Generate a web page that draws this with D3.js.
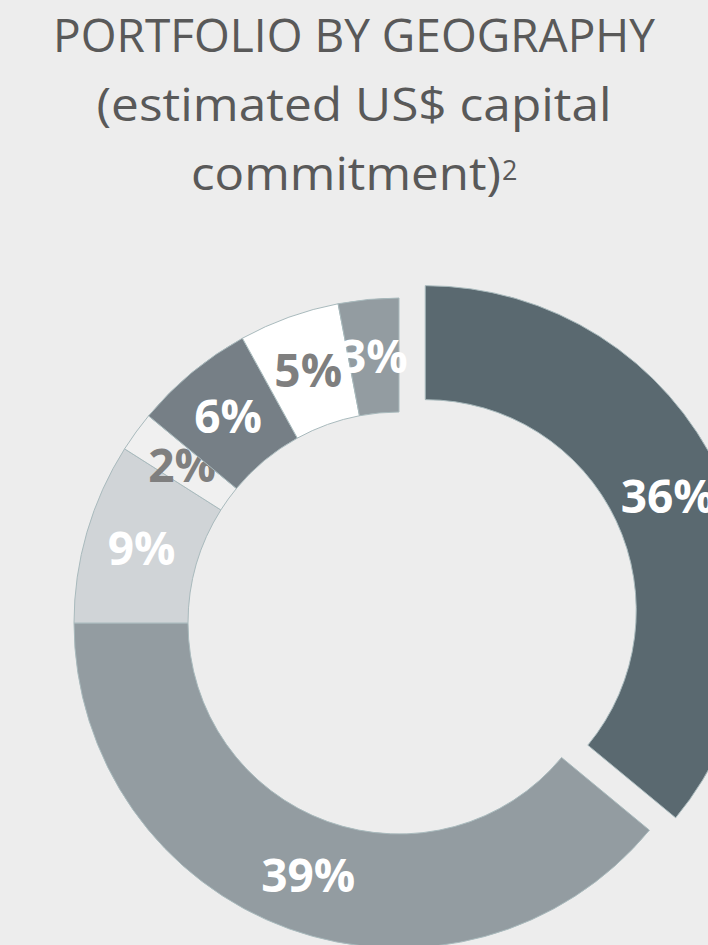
<!DOCTYPE html>
<html>
<head>
<meta charset="utf-8">
<script src="https://cdn.jsdelivr.net/npm/d3@7"></script>
<style>
  html, body { margin: 0; padding: 0; background: #ededed; }
  svg { display: block; }
</style>
</head>
<body>
<svg id="chart" width="708" height="945"></svg>
<script>
// Share of estimated US$ capital commitment by geography (clockwise from 12 o'clock)
const segments = ["A", "B", "C", "D", "E", "F", "G"];
const shares = [36, 39, 9, 2, 6, 5, 3];
const labels = ["36%", "39%", "9%", "2%", "6%", "5%", "3%"];
const exploded = ["A"];

const fills = ["#5a6970", "#939ca1", "#d0d4d7", "#f0f0f0", "#767f86", "#ffffff", "#939ca1"];
const labelColors = ["#ffffff", "#ffffff", "#ffffff", "#7f7f7f", "#ffffff", "#7f7f7f", "#ffffff"];

const titleLines = ["PORTFOLIO BY GEOGRAPHY", "(estimated US$ capital", "commitment)"];

const svg = d3.select("#chart");
const W = 708, H = 945;

svg.append("rect").attr("width", W).attr("height", H).attr("fill", "#ededed");

// Title
const title = svg.append("g").attr("fill", "#595959")
  .attr("font-family", "'Open Sans', sans-serif").attr("font-size", 45);
const titleBase = [52, 121, 190];
const titleWidths = [602, 515, 310];
titleLines.forEach((t, i) => {
  const tx = title.append("text")
    .attr("x", i === 2 ? 346 : 354).attr("y", titleBase[i])
    .attr("text-anchor", "middle")
    .attr("textLength", titleWidths[i]).attr("lengthAdjust", "spacingAndGlyphs")
    .text(t);
});
title.append("text")
  .attr("x", 502).attr("y", 180)
  .attr("font-size", 27)
  .text("2");

// Donut
const cx = 399, cy = 623;
const outerR = 325, innerR = 211;
const explodeBy = 29;

const data = segments.map((s, i) => ({ key: s, value: shares[i], label: labels[i], fill: fills[i], color: labelColors[i] }));

const pie = d3.pie().value(d => d.value).sort(null);
const arc = d3.arc().innerRadius(innerR).outerRadius(outerR);
const labelArc = d3.arc().innerRadius(268).outerRadius(268);

const arcs = pie(data);
const g = svg.append("g").attr("transform", `translate(${cx},${cy})`);

const offset = d => {
  if (!exploded.includes(d.data.key)) return [0, 0];
  const a = (d.startAngle + d.endAngle) / 2;
  return [Math.sin(a) * explodeBy, -Math.cos(a) * explodeBy];
};

const slice = g.selectAll("g.slice").data(arcs).join("g")
  .attr("class", "slice")
  .attr("transform", d => `translate(${offset(d)})`);

slice.append("path")
  .attr("d", arc)
  .attr("fill", d => d.data.fill)
  .attr("stroke", "#a9babd")
  .attr("stroke-width", 1);

slice.append("text")
  .attr("transform", d => `translate(${labelArc.centroid(d)})`)
  .attr("text-anchor", "middle")
  .attr("dy", "0.36em")
  .attr("font-family", "'Open Sans', sans-serif")
  .attr("font-weight", 700)
  .attr("font-size", 46)
  .attr("fill", d => d.data.color)
  .text(d => d.data.label);
</script>
</body>
</html>
